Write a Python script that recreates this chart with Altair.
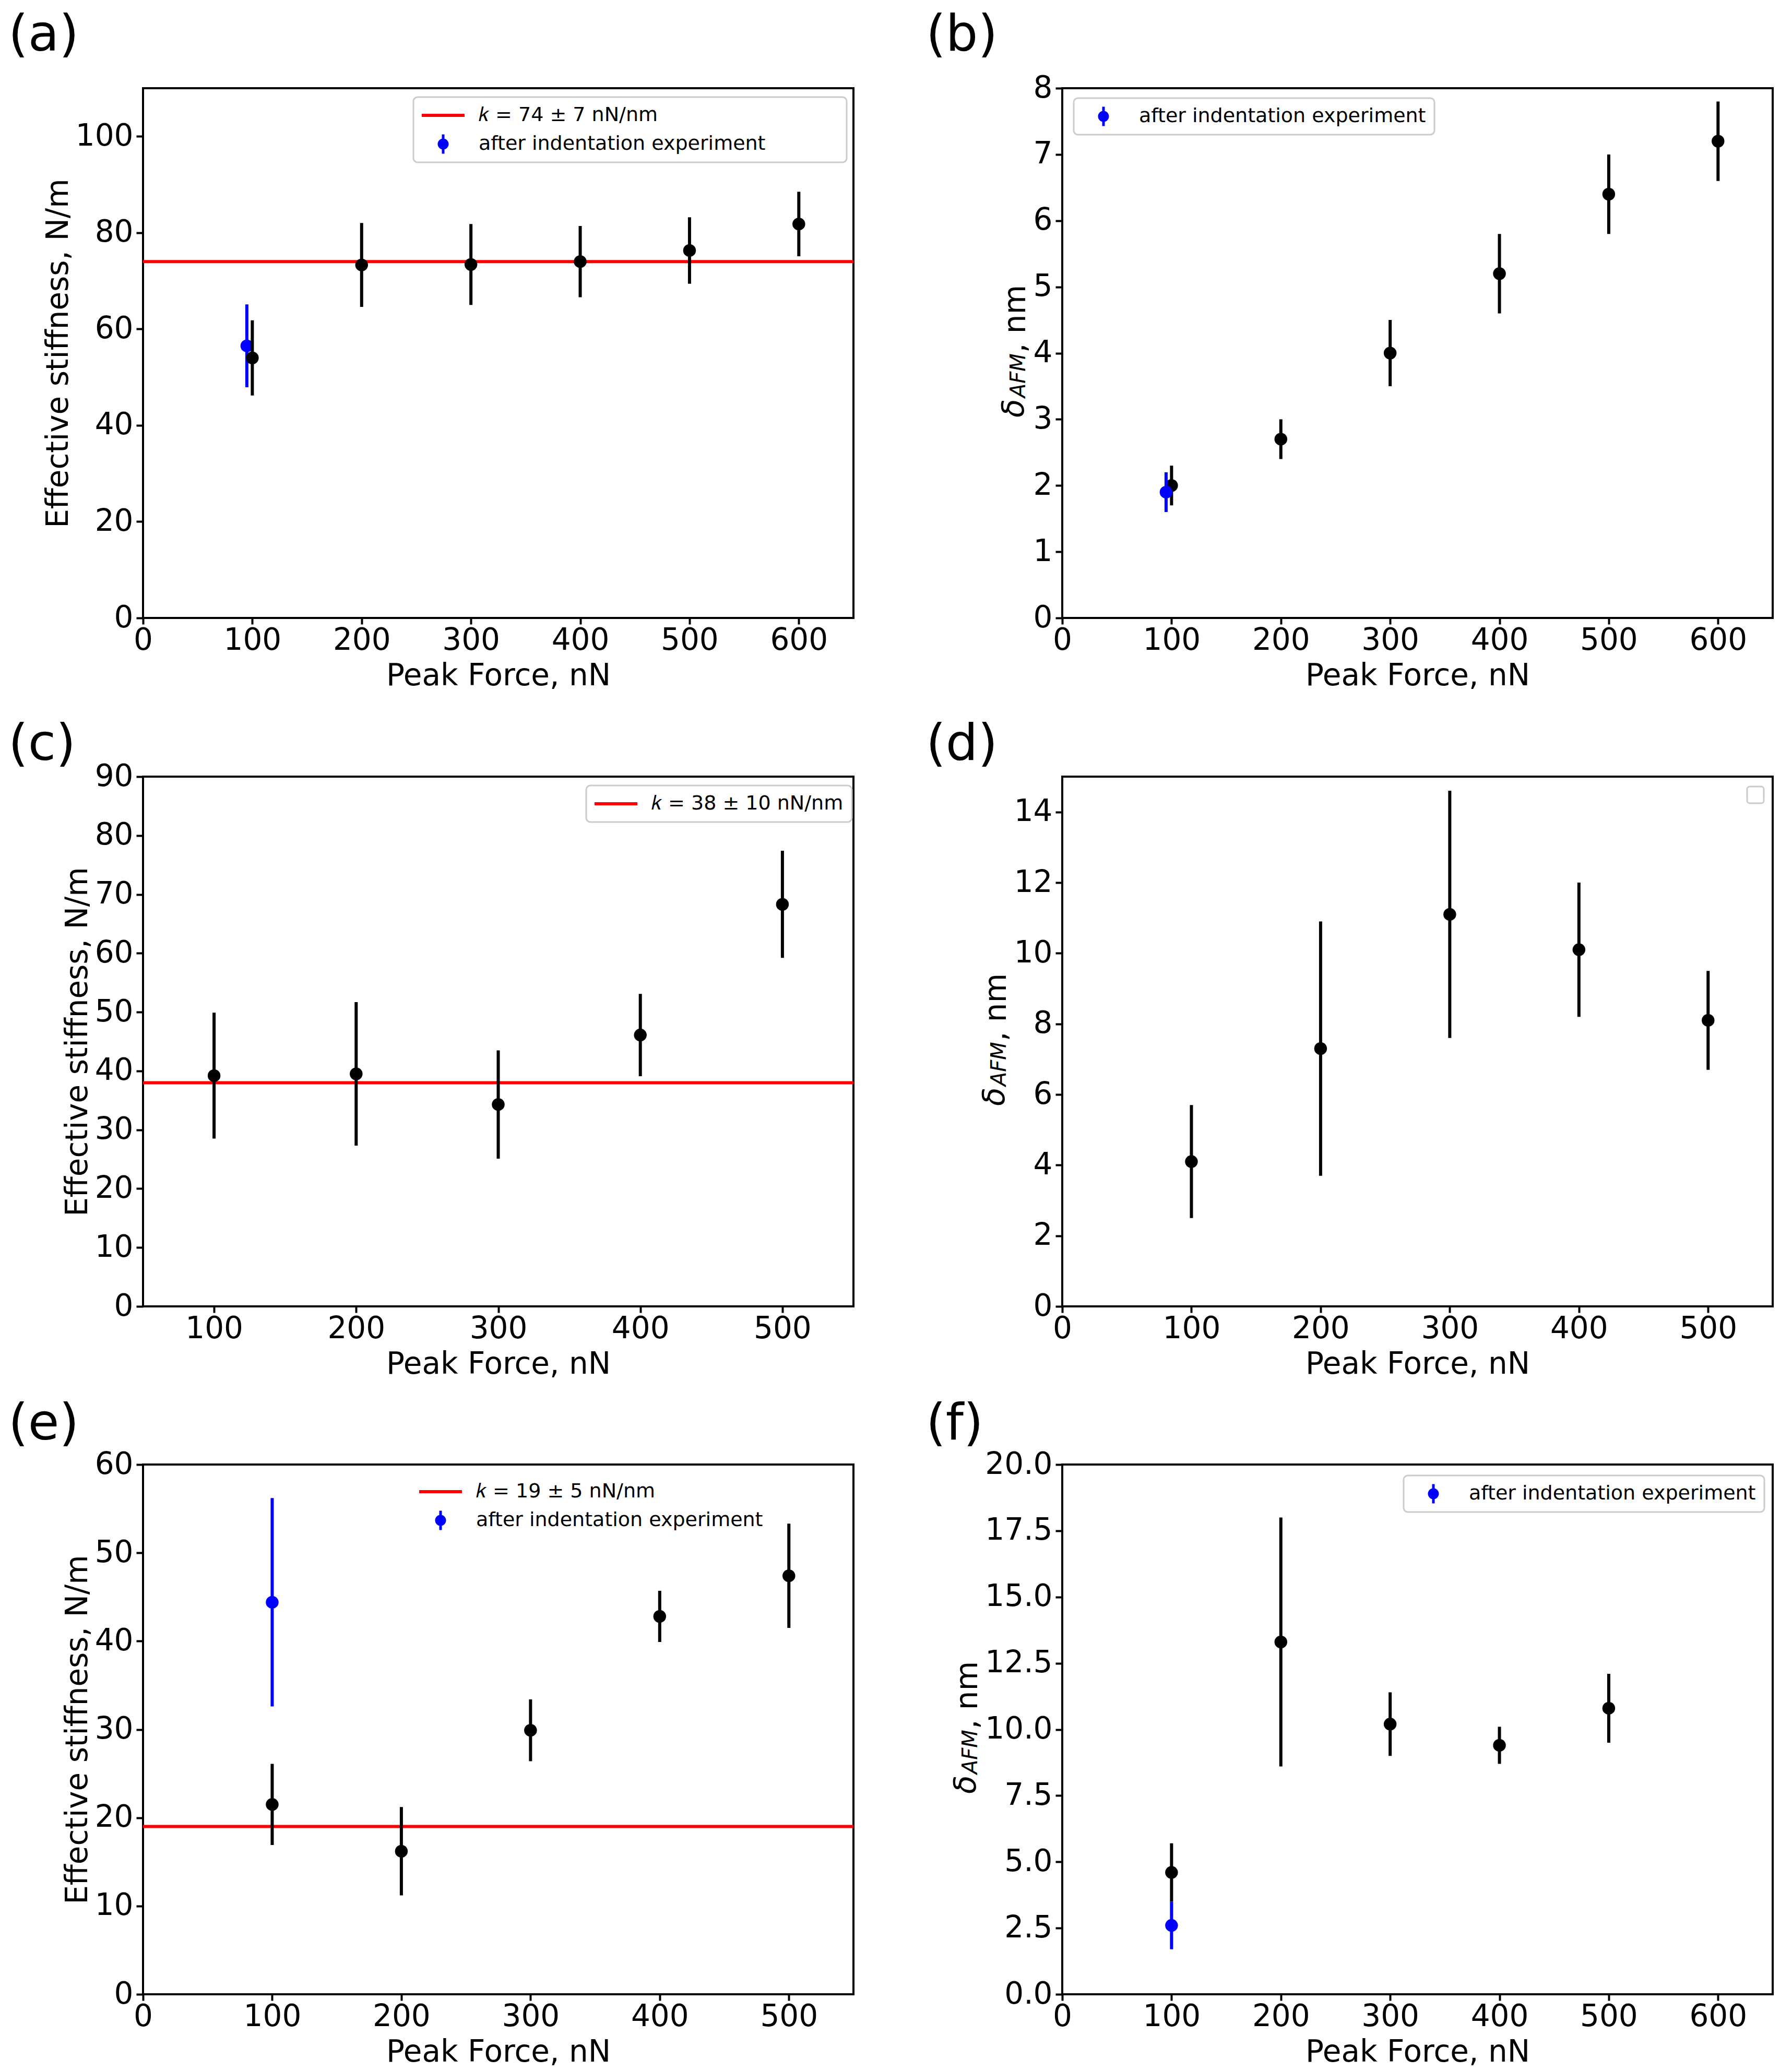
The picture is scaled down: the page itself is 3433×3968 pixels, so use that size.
import altair as alt
import pandas as pd

FONT = "DejaVu Sans"
BLACK = "#000000"
BLUE = "#0000ff"
RED = "#ff0000"
GRAY = "#cccccc"
BLANK = "\u2800"

# ---------------- data ----------------
# (a) effective stiffness
A_X = [100, 200, 300, 400, 500, 600]
A_Y = [54.0, 73.3, 73.4, 74.0, 76.3, 81.8]
A_ERR = [7.8, 8.7, 8.4, 7.4, 6.9, 6.7]
A_BX = [95]
A_BY = [56.5]
A_BERR = [8.6]
A_K = 74
A_KLABEL = "𝑘 = 74 ± 7 nN/nm"

# (b) delta AFM
B_X = [100, 200, 300, 400, 500, 600]
B_Y = [2.0, 2.7, 4.0, 5.2, 6.4, 7.2]
B_ERR = [0.3, 0.3, 0.5, 0.6, 0.6, 0.6]
B_BX = [95]
B_BY = [1.9]
B_BERR = [0.3]

# (c) effective stiffness
C_X = [100, 200, 300, 400, 500]
C_Y = [39.2, 39.5, 34.3, 46.1, 68.3]
C_ERR = [10.7, 12.2, 9.2, 7.0, 9.1]
C_K = 38
C_KLABEL = "𝑘 = 38 ± 10 nN/nm"

# (d) delta AFM
D_X = [100, 200, 300, 400, 500]
D_Y = [4.1, 7.3, 11.1, 10.1, 8.1]
D_ERR = [1.6, 3.6, 3.5, 1.9, 1.4]

# (e) effective stiffness
E_X = [100, 200, 300, 400, 500]
E_Y = [21.5, 16.2, 29.9, 42.8, 47.4]
E_ERR = [4.6, 5.0, 3.5, 2.9, 5.9]
E_BX = [100]
E_BY = [44.4]
E_BERR = [11.8]
E_K = 19
E_KLABEL = "𝑘 = 19 ± 5 nN/nm"

# (f) delta AFM
F_X = [100, 200, 300, 400, 500]
F_Y = [4.6, 13.3, 10.2, 9.4, 10.8]
F_ERR = [1.1, 4.7, 1.2, 0.7, 1.3]
F_BX = [100]
F_BY = [2.6]
F_BERR = [0.9]

AFTER = "after indentation experiment"
STIFF_TITLE = "Effective stiffness, N/m"
X_TITLE = "Peak Force, nN"
PANEL_LABELS = ["(a)", "(b)", "(c)", "(d)", "(e)", "(f)"]
DELTA_PARTS = ["δ", "AFM", ", nm"]

TICKS_600 = [0, 100, 200, 300, 400, 500, 600]
TICKS_500 = [0, 100, 200, 300, 400, 500]
TICKS_C = [100, 200, 300, 400, 500]

LINE_PATH = "M-2.216,-0.162L2.216,-0.162L2.216,0.162L-2.216,0.162Z"
EBAR_PATH = ("M-0.135,-1L0.135,-1L0.135,1L-0.135,1Z "
             "M-0.568,0A0.568,0.568,0,1,1,0.568,0A0.568,0.568,0,1,1,-0.568,0Z")

W, H = 1361, 1015
LEFT_LAB_X = -258
RIGHT_LAB_X = -261
YTITLE_PAD = 15


def errdf(xs, ys, errs):
    return pd.DataFrame({
        "x": xs, "y": ys,
        "lo": [a - b for a, b in zip(ys, errs)],
        "hi": [a + b for a, b in zip(ys, errs)],
    })


def panel(label, lab_x, lab_y, main, blue, k, xdom, xticks, ydom, yticks,
          yfmt, ytitle, delta_base, legend, blue_on_top, empty_box=False):
    xs = alt.Scale(domain=xdom, nice=False, zero=False)
    ys = alt.Scale(domain=ydom, nice=False, zero=False)
    xax = alt.Axis(values=xticks, title=X_TITLE, format="d")
    if ytitle:
        yax = alt.Axis(values=yticks, title=ytitle, format=yfmt,
                       titlePadding=YTITLE_PAD, titleBaseline="alphabetic")
    else:
        yax = alt.Axis(values=yticks, title=None, format=yfmt)
    X = lambda f: alt.X(f, type="quantitative", scale=xs, axis=xax)
    Y = lambda f: alt.Y(f, type="quantitative", scale=ys, axis=yax)

    layers = []
    if k is not None:
        layers.append(alt.Chart(pd.DataFrame({"k": [k]})).mark_rule(
            color=RED, strokeWidth=6).encode(y=Y("k")))

    def series(df, color):
        bars = alt.Chart(df).mark_rule(color=color, strokeWidth=6).encode(
            x=X("x"), y=Y("lo"), y2=alt.Y2("hi"))
        pts = alt.Chart(df).mark_circle(color=color, size=600, opacity=1).encode(
            x=X("x"), y=Y("y"))
        return [bars, pts]

    black_layers = series(main, BLACK)
    blue_layers = series(blue, BLUE) if blue is not None else []
    if blue_on_top:
        layers += black_layers + blue_layers
    else:
        layers += blue_layers + black_layers

    if legend is not None:
        labels, colors, shapes, lx, ly, framed = legend
        lprops = dict(orient="none", legendX=lx, legendY=ly, title=None,
                      padding=16, rowPadding=17, symbolSize=1369,
                      symbolStrokeWidth=0, symbolOffset=22, labelOffset=49,
                      labelFontSize=38, labelFont=FONT, labelColor="black",
                      labelLimit=3000)
        if framed:
            lprops.update(strokeColor=GRAY, fillColor="white", cornerRadius=8)
        leg = alt.Legend(**lprops)
        ldf = pd.DataFrame({"lab": labels})
        layers.append(alt.Chart(ldf).mark_point(filled=True, opacity=1).encode(
            color=alt.Color("lab:N", scale=alt.Scale(domain=labels, range=colors),
                            legend=leg),
            shape=alt.Shape("lab:N", scale=alt.Scale(domain=labels, range=shapes),
                            legend=leg),
        ).transform_filter("false"))

    if empty_box:
        layers.append(alt.Chart(pd.DataFrame({"v": [0]})).mark_rect(
            fill="white", stroke=GRAY, strokeWidth=3, cornerRadius=5).encode(
            x=alt.value(1312), x2=alt.value(1344), y=alt.value(19), y2=alt.value(51)))

    if delta_base is not None:
        d, sub, rest = DELTA_PARTS
        specs = [(d, delta_base - 3, 631, 58, "italic"),
                 (sub, delta_base, 593, 40, "italic"),
                 (rest, delta_base, 507, 58, "normal")]
        for t, tx, ty, fs, st in specs:
            layers.append(alt.Chart(pd.DataFrame({"t": [t]})).mark_text(
                angle=270, align="left", baseline="alphabetic", font=FONT,
                fontSize=fs, fontStyle=st, color="black").encode(
                text="t:N", x=alt.value(tx), y=alt.value(ty)))

    layers.append(alt.Chart(pd.DataFrame({"t": [label]})).mark_text(
        align="left", baseline="alphabetic", font=FONT, fontSize=97,
        color="black").encode(text="t:N", x=alt.value(lab_x), y=alt.value(lab_y)))

    return alt.layer(*layers).properties(width=W, height=H)


pa = panel(PANEL_LABELS[0], LEFT_LAB_X, -72, errdf(A_X, A_Y, A_ERR),
           errdf(A_BX, A_BY, A_BERR), A_K, [0, 650], TICKS_600, [0, 110],
           [0, 20, 40, 60, 80, 100], "d", STIFF_TITLE, None,
           ([A_KLABEL, AFTER + BLANK * 5], [RED, BLUE], [LINE_PATH, EBAR_PATH],
            518, 17, True), blue_on_top=False)
pb = panel(PANEL_LABELS[1], RIGHT_LAB_X, -72, errdf(B_X, B_Y, B_ERR),
           errdf(B_BX, B_BY, B_BERR), None, [0, 650], TICKS_600, [0, 8],
           [0, 1, 2, 3, 4, 5, 6, 7, 8], "d", None, -71,
           ([AFTER], [BLUE], [EBAR_PATH], 22, 19, True), blue_on_top=True)
pc = panel(PANEL_LABELS[2], LEFT_LAB_X, -32, errdf(C_X, C_Y, C_ERR), None, C_K,
           [50, 550], TICKS_C, [0, 90], [0, 10, 20, 30, 40, 50, 60, 70, 80, 90],
           "d", STIFF_TITLE, None,
           ([C_KLABEL], [RED], [LINE_PATH], 849, 17, True), blue_on_top=True)
pd_ = panel(PANEL_LABELS[3], RIGHT_LAB_X, -32, errdf(D_X, D_Y, D_ERR), None, None,
            [0, 550], TICKS_500, [0, 15], [0, 2, 4, 6, 8, 10, 12, 14], "d",
            None, -108, None, blue_on_top=True, empty_box=True)
pe = panel(PANEL_LABELS[4], LEFT_LAB_X, -48, errdf(E_X, E_Y, E_ERR),
           errdf(E_BX, E_BY, E_BERR), E_K, [0, 550], TICKS_500, [0, 60],
           [0, 10, 20, 30, 40, 50, 60], "d", STIFF_TITLE, None,
           ([E_KLABEL, AFTER], [RED, BLUE], [LINE_PATH, EBAR_PATH], 513, 17, False),
           blue_on_top=True)
pf = panel(PANEL_LABELS[5], RIGHT_LAB_X, -48, errdf(F_X, F_Y, F_ERR),
           errdf(F_BX, F_BY, F_BERR), None, [0, 650], TICKS_600, [0, 20],
           [0, 2.5, 5, 7.5, 10, 12.5, 15, 17.5, 20], ".1f", None, -163,
           ([AFTER], [BLUE], [EBAR_PATH], 654, 21, True), blue_on_top=True)


def indep(c):
    return c.resolve_scale(x="independent", y="independent",
                           color="independent", shape="independent").resolve_legend(
        color="independent", shape="independent")


row1 = indep(alt.hconcat(pa, pb, spacing=132))
row2 = indep(alt.hconcat(pc, pd_, spacing=132))
row3 = indep(alt.hconcat(pe, pf, spacing=132))
lower = indep(alt.vconcat(row2, row3, spacing=33))
chart = indep(alt.vconcat(row1, lower, spacing=50)).properties(
    padding={"left": 6, "top": 9, "right": 5, "bottom": 5}
).configure(font=FONT).configure_view(
    stroke="black", strokeWidth=4
).configure_axis(
    labelFont=FONT, titleFont=FONT, labelFontSize=58, titleFontSize=58,
    labelColor="black", titleColor="black", titleFontWeight="normal",
    grid=False, domain=False, tickColor="black", tickWidth=4,
    labelFlush=False, labelOverlap=False, labelLimit=1000
).configure_axisX(
    tickSize=12, labelPadding=2, titlePadding=10
).configure_axisY(
    tickSize=13, labelPadding=6
).configure_legend(strokeWidth=3)

chart.save("out.html", embed_options={"renderer": "svg", "actions": False})
